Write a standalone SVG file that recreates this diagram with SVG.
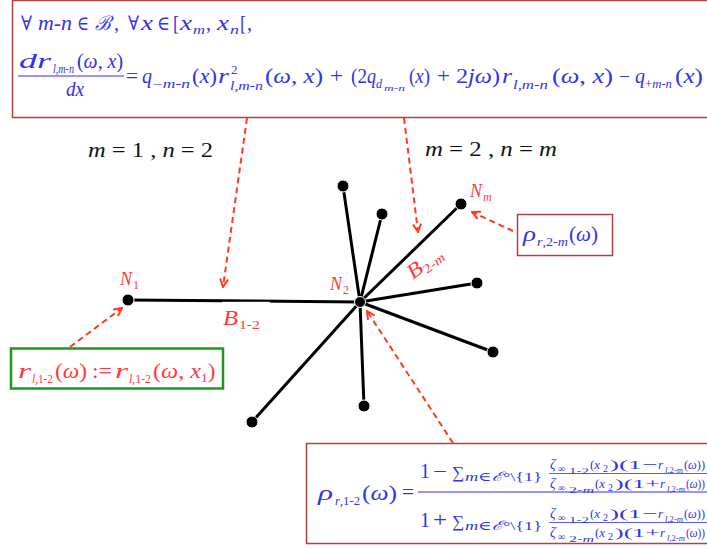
<svg xmlns="http://www.w3.org/2000/svg" width="707" height="548" viewBox="0 0 707 548">
<defs>
<style>
text{font-family:"Liberation Serif","DejaVu Serif",serif;}
.b{fill:#3232ea;}
.rd{fill:#ff3a3a;}
.k{fill:#111;}
.i{font-style:italic;}
.f20{font-size:20px;}
.f22{font-size:22px;}
.s12{font-size:12px;}
.s13{font-size:13px;}
.s14{font-size:14px;}
.s10{font-size:10px;}
.s9{font-size:9px;}
.s8{font-size:8px;}
.box{fill:#fff;stroke:#b0443c;stroke-width:1.5;}
.bar{stroke:#3232ea;stroke-width:1.2;}
.edge{stroke:#000;stroke-width:3;stroke-linecap:round;}
.node{fill:#000;stroke:#fff;stroke-width:1;}
.arr{fill:none;stroke:#ff3a1e;stroke-width:2;stroke-dasharray:6 4;marker-end:url(#ah);}
</style>
<marker id="ah" viewBox="0 0 10 10" refX="9" refY="5" markerWidth="10" markerHeight="10" markerUnits="userSpaceOnUse" orient="auto">
<path d="M1,1 L9,5 L1,9" fill="none" stroke="#ff3a1e" stroke-width="2"/>
</marker>
</defs>
<rect width="707" height="548" fill="#fff"/>

<g id="top-box">
<rect class="box" x="12.5" y="0.5" width="720" height="117"/>
<g class="b f20">
<text x="21" y="30" textLength="11" lengthAdjust="spacingAndGlyphs">∀</text>
<text class="i" x="38" y="30" textLength="34" lengthAdjust="spacingAndGlyphs">m-n</text>
<text x="77" y="30" textLength="12" lengthAdjust="spacingAndGlyphs">∈</text>
<text class="i" x="95" y="30" textLength="16" lengthAdjust="spacingAndGlyphs">ℬ</text>
<text x="114" y="30">,</text>
<text x="128" y="30" textLength="11" lengthAdjust="spacingAndGlyphs">∀</text>
<text class="i" x="141" y="30" textLength="12" lengthAdjust="spacingAndGlyphs">x</text>
<text x="157" y="30" textLength="13" lengthAdjust="spacingAndGlyphs">∈</text>
<text x="173" y="30" textLength="6" lengthAdjust="spacingAndGlyphs">[</text>
<text class="i" x="180" y="30" textLength="12" lengthAdjust="spacingAndGlyphs">x</text>
<text class="i s13" x="193" y="34" textLength="12" lengthAdjust="spacingAndGlyphs">m</text>
<text x="206" y="30">,</text>
<text class="i" x="217" y="30" textLength="12" lengthAdjust="spacingAndGlyphs">x</text>
<text class="i s13" x="230" y="34" textLength="9" lengthAdjust="spacingAndGlyphs">n</text>
<text x="240" y="30" textLength="6" lengthAdjust="spacingAndGlyphs">[</text>
<text x="247" y="30">,</text>

<text class="i" x="19" y="68" textLength="32" lengthAdjust="spacingAndGlyphs" style="font-size:22px">dr</text>
<text class="i s12" x="53" y="73" textLength="21" lengthAdjust="spacingAndGlyphs">l,m-n</text>
<text x="77" y="68" textLength="46" lengthAdjust="spacingAndGlyphs">(<tspan class="i">ω</tspan>, <tspan class="i">x</tspan>)</text>
<line class="bar" x1="18" y1="76" x2="124" y2="76"/>
<text class="i" x="66" y="96" textLength="18" lengthAdjust="spacingAndGlyphs">dx</text>

<text x="126" y="83" textLength="12" lengthAdjust="spacingAndGlyphs">=</text>
<text class="i" x="142" y="83" textLength="10" lengthAdjust="spacingAndGlyphs">q</text>
<text class="s12" x="153" y="88" textLength="37" lengthAdjust="spacingAndGlyphs">−<tspan class="i">m</tspan>-<tspan class="i">n</tspan></text>
<text x="192" y="83" textLength="25" lengthAdjust="spacingAndGlyphs">(<tspan class="i">x</tspan>)</text>
<text class="i" x="218" y="83" textLength="11" lengthAdjust="spacingAndGlyphs">r</text>
<text class="s13" x="231" y="74">2</text>
<text class="i s12" x="230" y="90" textLength="33" lengthAdjust="spacingAndGlyphs">l,m-n</text>
<text x="265" y="83" textLength="58" lengthAdjust="spacingAndGlyphs">(<tspan class="i">ω</tspan>, <tspan class="i">x</tspan>)</text>
<text x="330" y="83" textLength="13" lengthAdjust="spacingAndGlyphs">+</text>
<text x="351" y="83" textLength="16" lengthAdjust="spacingAndGlyphs">(2</text>
<text class="i" x="367" y="83" textLength="9" lengthAdjust="spacingAndGlyphs">q</text>
<text class="i s12" x="376" y="88">d</text>
<text class="i s9" x="384" y="91" textLength="21" lengthAdjust="spacingAndGlyphs">m-n</text>
<text x="409" y="83" textLength="21" lengthAdjust="spacingAndGlyphs">(<tspan class="i">x</tspan>)</text>
<text x="437" y="83" textLength="13" lengthAdjust="spacingAndGlyphs">+</text>
<text x="456" y="83" textLength="44" lengthAdjust="spacingAndGlyphs">2<tspan class="i">jω</tspan>)</text>
<text class="i" x="502" y="83" textLength="10" lengthAdjust="spacingAndGlyphs">r</text>
<text class="i s12" x="513" y="89" textLength="35" lengthAdjust="spacingAndGlyphs">l,m-n</text>
<text x="552" y="83" textLength="61" lengthAdjust="spacingAndGlyphs">(<tspan class="i">ω</tspan>, <tspan class="i">x</tspan>)</text>
<text x="619" y="83" textLength="11" lengthAdjust="spacingAndGlyphs">−</text>
<text class="i" x="635" y="83" textLength="10" lengthAdjust="spacingAndGlyphs">q</text>
<text class="s12" x="645" y="88" textLength="27" lengthAdjust="spacingAndGlyphs">+<tspan class="i">m</tspan>-<tspan class="i">n</tspan></text>
<text x="675" y="83" textLength="28" lengthAdjust="spacingAndGlyphs">(<tspan class="i">x</tspan>)</text>
</g>
</g>

<g id="label-m1n2">
<text class="k" x="88" y="157" style="font-size:20px" textLength="125" lengthAdjust="spacingAndGlyphs"><tspan class="i">m</tspan> = 1 , <tspan class="i">n</tspan> = 2</text>
</g>
<g id="label-m2nm">
<text class="k" x="425" y="156" style="font-size:20px" textLength="132" lengthAdjust="spacingAndGlyphs"><tspan class="i">m</tspan> = 2 , <tspan class="i">n</tspan> = <tspan class="i">m</tspan></text>
</g>

<g id="graph-edges">
<line class="edge" x1="360" y1="302" x2="128" y2="300"/>
<line class="edge" x1="360" y1="302" x2="343" y2="186"/>
<line class="edge" x1="360" y1="302" x2="382" y2="214"/>
<line class="edge" x1="360" y1="302" x2="461" y2="204"/>
<line class="edge" x1="360" y1="302" x2="477" y2="283"/>
<line class="edge" x1="360" y1="302" x2="493" y2="352"/>
<line class="edge" x1="360" y1="302" x2="364" y2="406"/>
<line class="edge" x1="360" y1="302" x2="252" y2="422"/>
<rect x="222" y="301.8" width="48" height="24" fill="#fff"/>
</g>

<g id="node-N1"><circle class="node" cx="128" cy="300" r="6"/>
<text class="rd i" x="120" y="285" style="font-size:18px">N</text><text class="rd s12" x="133" y="289">1</text></g>
<g id="node-N2"><circle class="node" cx="360" cy="302" r="5.5"/>
<text class="rd i" x="330" y="290" style="font-size:18px">N</text><text class="rd s12" x="343" y="294">2</text></g>
<g id="node-Nm"><circle class="node" cx="461" cy="204" r="6"/>
<text class="rd i" x="470" y="197" style="font-size:18px">N</text><text class="rd i s12" x="483" y="201">m</text></g>
<g id="node-a"><circle class="node" cx="343" cy="186" r="6"/></g>
<g id="node-b"><circle class="node" cx="382" cy="214" r="6"/></g>
<g id="node-c"><circle class="node" cx="477" cy="283" r="6"/></g>
<g id="node-d"><circle class="node" cx="493" cy="352" r="6"/></g>
<g id="node-e"><circle class="node" cx="364" cy="406" r="6"/></g>
<g id="node-f"><circle class="node" cx="252" cy="422" r="6"/></g>

<g id="label-B12">
<text class="rd i" x="223" y="325" style="font-size:21px" textLength="15" lengthAdjust="spacingAndGlyphs">B</text><text class="rd s13" x="239" y="329" textLength="21" lengthAdjust="spacingAndGlyphs">1-2</text>
</g>
<g id="label-B2m" transform="translate(413,280) rotate(-38)">
<text class="rd i" x="0" y="0" style="font-size:21px" textLength="15" lengthAdjust="spacingAndGlyphs">B</text><text class="rd s13" x="15" y="4" textLength="24" lengthAdjust="spacingAndGlyphs">2-<tspan class="i">m</tspan></text>
</g>

<g id="rho2m-box">
<rect class="box" x="517.5" y="214.5" width="95" height="41"/>
<text class="b i f22" x="523" y="241" textLength="13" lengthAdjust="spacingAndGlyphs">ρ</text>
<text class="b s12" x="537" y="246" textLength="31" lengthAdjust="spacingAndGlyphs"><tspan class="i">r</tspan>,2-<tspan class="i">m</tspan></text>
<text class="b f22" x="569" y="241" textLength="29" lengthAdjust="spacingAndGlyphs">(<tspan class="i">ω</tspan>)</text>
</g>

<g id="init-box">
<rect x="11" y="348.5" width="212" height="40" fill="#fff" stroke="#1f961f" stroke-width="2.5"/>
<g class="rd">
<text class="i f22" x="18" y="378" textLength="13" lengthAdjust="spacingAndGlyphs">r</text>
<text class="s12" x="32" y="383" textLength="21" lengthAdjust="spacingAndGlyphs"><tspan class="i">l</tspan>,1-2</text>
<text class="f22" x="55" y="378" textLength="32" lengthAdjust="spacingAndGlyphs">(<tspan class="i">ω</tspan>)</text>
<text class="f22" x="92" y="378" textLength="20" lengthAdjust="spacingAndGlyphs">:=</text>
<text class="i f22" x="115" y="378" textLength="13" lengthAdjust="spacingAndGlyphs">r</text>
<text class="s12" x="129" y="383" textLength="22" lengthAdjust="spacingAndGlyphs"><tspan class="i">l</tspan>,1-2</text>
<text class="f22" x="153" y="378" textLength="48" lengthAdjust="spacingAndGlyphs">(<tspan class="i">ω</tspan>, <tspan class="i">x</tspan></text>
<text class="s13" x="201" y="382">1</text>
<text class="f22" x="208" y="378">)</text>
</g>
</g>

<g id="bottom-box">
<rect class="box" x="306.5" y="443.5" width="420" height="100"/>
<g class="b">
<text class="i f22" x="318" y="500" textLength="15" lengthAdjust="spacingAndGlyphs">ρ</text>
<text class="s12" x="335" y="505" textLength="25" lengthAdjust="spacingAndGlyphs"><tspan class="i">r</tspan>,1-2</text>
<text class="f22" x="362" y="500" textLength="35" lengthAdjust="spacingAndGlyphs">(<tspan class="i">ω</tspan>)</text>
<text class="f20" x="402" y="499" textLength="12" lengthAdjust="spacingAndGlyphs">=</text>
<line class="bar" x1="418" y1="492" x2="720" y2="492"/>

<text class="f20" x="420" y="478">1</text>
<text class="f20" x="433" y="478" textLength="14" lengthAdjust="spacingAndGlyphs">−</text>
<text x="452" y="478" style="font-size:17px">∑</text>
<text class="s13" x="465" y="481" textLength="77" lengthAdjust="spacingAndGlyphs"><tspan class="i">m</tspan>∈<tspan class="i">ℰ</tspan>°\{1}</text>
<text class="i s14" x="550" y="469">ζ</text>
<text class="s10" x="558" y="472">∞</text>
<text class="s8" x="569" y="474" textLength="20" lengthAdjust="spacingAndGlyphs">1-2</text>
<text class="s13" x="590" y="469">(<tspan class="i">x</tspan></text>
<text class="s10" x="603" y="472">2</text>
<text class="s13" x="610" y="469" textLength="47" lengthAdjust="spacingAndGlyphs">)(1−</text>
<text class="i s13" x="658" y="469">r</text>
<text class="s9" x="665" y="473" textLength="18" lengthAdjust="spacingAndGlyphs"><tspan class="i">l</tspan>,2-<tspan class="i">m</tspan></text>
<text class="s13" x="684" y="469" textLength="21" lengthAdjust="spacingAndGlyphs">(<tspan class="i">ω</tspan>))</text>
<line class="bar" x1="549" y1="473.5" x2="720" y2="473.5" style="stroke-width:0.8"/>
<text class="i s14" x="550" y="488">ζ</text>
<text class="s10" x="558" y="491">∞</text>
<text class="s8" x="569" y="493" textLength="25" lengthAdjust="spacingAndGlyphs">2-<tspan class="i">m</tspan></text>
<text class="s13" x="595" y="488">(<tspan class="i">x</tspan></text>
<text class="s10" x="608" y="491">2</text>
<text class="s13" x="615" y="488" textLength="45" lengthAdjust="spacingAndGlyphs">)(1+</text>
<text class="i s13" x="660" y="488">r</text>
<text class="s9" x="667" y="492" textLength="18" lengthAdjust="spacingAndGlyphs"><tspan class="i">l</tspan>,2-<tspan class="i">m</tspan></text>
<text class="s13" x="686" y="488" textLength="19" lengthAdjust="spacingAndGlyphs">(<tspan class="i">ω</tspan>))</text>

<text class="f20" x="420" y="527">1</text>
<text class="f20" x="433" y="527" textLength="14" lengthAdjust="spacingAndGlyphs">+</text>
<text x="452" y="527" style="font-size:17px">∑</text>
<text class="s13" x="465" y="530" textLength="77" lengthAdjust="spacingAndGlyphs"><tspan class="i">m</tspan>∈<tspan class="i">ℰ</tspan>°\{1}</text>
<text class="i s14" x="550" y="518">ζ</text>
<text class="s10" x="558" y="521">∞</text>
<text class="s8" x="569" y="523" textLength="20" lengthAdjust="spacingAndGlyphs">1-2</text>
<text class="s13" x="590" y="518">(<tspan class="i">x</tspan></text>
<text class="s10" x="603" y="521">2</text>
<text class="s13" x="610" y="518" textLength="47" lengthAdjust="spacingAndGlyphs">)(1−</text>
<text class="i s13" x="658" y="518">r</text>
<text class="s9" x="665" y="522" textLength="18" lengthAdjust="spacingAndGlyphs"><tspan class="i">l</tspan>,2-<tspan class="i">m</tspan></text>
<text class="s13" x="684" y="518" textLength="21" lengthAdjust="spacingAndGlyphs">(<tspan class="i">ω</tspan>))</text>
<line class="bar" x1="549" y1="522.5" x2="720" y2="522.5" style="stroke-width:0.8"/>
<text class="i s14" x="550" y="537">ζ</text>
<text class="s10" x="558" y="540">∞</text>
<text class="s8" x="569" y="542" textLength="25" lengthAdjust="spacingAndGlyphs">2-<tspan class="i">m</tspan></text>
<text class="s13" x="595" y="537">(<tspan class="i">x</tspan></text>
<text class="s10" x="608" y="540">2</text>
<text class="s13" x="615" y="537" textLength="45" lengthAdjust="spacingAndGlyphs">)(1+</text>
<text class="i s13" x="660" y="537">r</text>
<text class="s9" x="667" y="541" textLength="18" lengthAdjust="spacingAndGlyphs"><tspan class="i">l</tspan>,2-<tspan class="i">m</tspan></text>
<text class="s13" x="686" y="537" textLength="19" lengthAdjust="spacingAndGlyphs">(<tspan class="i">ω</tspan>))</text>
</g>
</g>

<g id="connectors">
<line class="arr" x1="247" y1="118" x2="223" y2="287"/>
<line class="arr" x1="404" y1="118" x2="418" y2="232"/>
<line class="arr" x1="513" y1="231" x2="472" y2="212"/>
<line class="arr" x1="70" y1="347" x2="122" y2="308"/>
<line class="arr" x1="453" y1="443" x2="367" y2="311"/>
</g>
</svg>
